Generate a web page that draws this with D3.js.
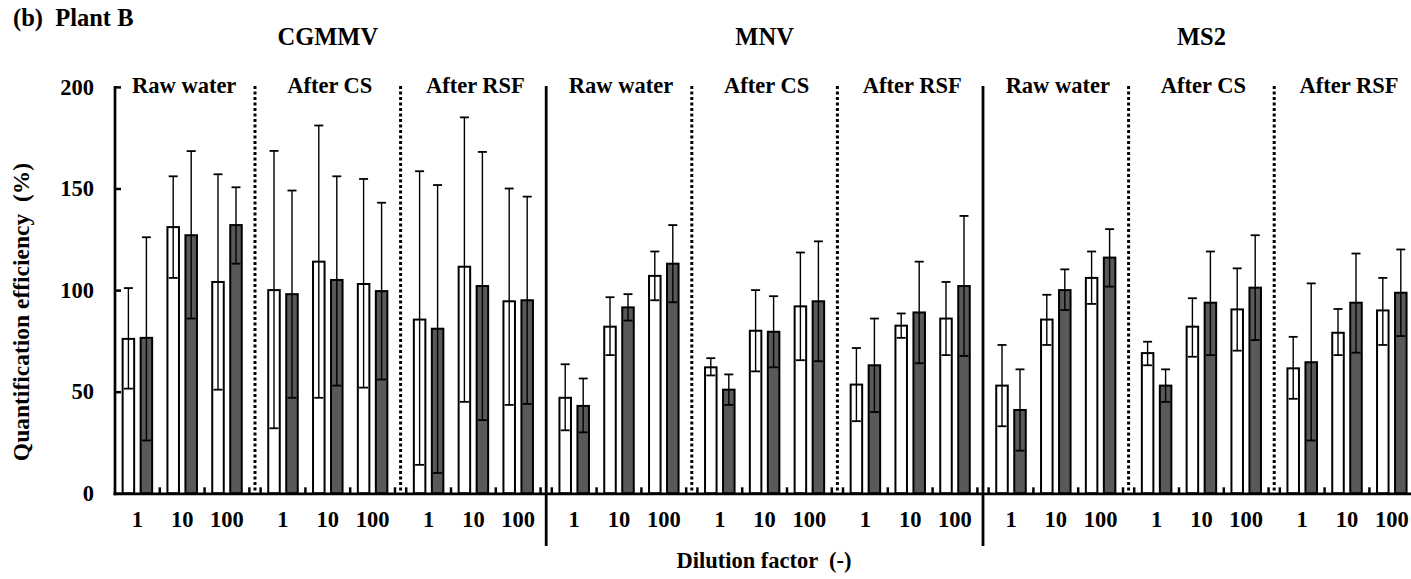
<!DOCTYPE html>
<html>
<head>
<meta charset="utf-8">
<script src="https://cdn.jsdelivr.net/npm/d3@7"></script>
<style>
  html, body { margin: 0; padding: 0; background: #fff; }
  svg { display: block; }
  text { font-family: "Liberation Serif", "Times New Roman", serif; font-weight: bold; fill: #000; }
</style>
</head>
<body>
<svg id="chart" width="1411" height="579"></svg>
<script>
// ---------------- DATA ----------------
const viruses = ["CGMMV", "MNV", "MS2"];
const treatments = ["Raw water", "After CS", "After RSF"];
const dilutions = ["1", "10", "100"];
const yTicks = [0, 50, 100, 150, 200];

// order: virus -> treatment -> dilution (27 values)
// open (white) bars
const meanA = [
  76, 131, 104,   100, 114, 103,   85.5, 111.5, 94.5,
  47, 82, 107,    62, 80, 92,      53.5, 82.5, 86,
  53, 85.5, 106,  69, 82, 90.5,    61.5, 79, 90
];
const upperA = [
  101, 156, 157,   168.5, 181, 154.7, 158.5, 185, 150,
  63.5, 96.5, 119, 66.5, 100, 118.5, 71.5, 88.5, 104,
  73, 97.7, 119,   74.6, 96, 110.7,  77, 90.7, 106
];
const lowerA = [
  51.5, 106, 51,  32, 47, 52,      14, 45, 43.5,
  31, 68, 95,     58, 60, 65.5,    35.5, 76.5, 68,
  33, 73, 93.2,   63, 67.2, 70.2,  46.5, 68, 73
];
// filled (dark) bars
const meanB = [
  76.5, 127, 132,  98, 105, 99.5,   81, 102, 95,
  43, 91.5, 113,   51, 79.5, 94.5,  63, 89, 102,
  41, 100, 116,    53, 93.8, 101.2, 64.5, 93.8, 98.7
];
const upperB = [
  126, 168.4, 150.6, 149, 156, 143,    151.7, 168, 146,
  56.5, 98, 132,     58.5, 97, 124,    86, 114, 136.5,
  61, 110.2, 130,    61, 119, 127,     103.3, 118, 120
];
const lowerB = [
  26, 86, 113,     47, 53, 56,      10, 36, 44,
  30, 85, 94,      43.5, 62, 65,    40, 64, 67.6,
  21, 90.2, 101.7, 45, 68, 75.4,    26, 69.2, 77.4
];
const seriesKeys = ["A", "B"];

// ---------------- BUILD ----------------
const groups = [];
viruses.forEach((v, vi) => treatments.forEach((t, ti) => groups.push({ v, vi, t, ti, gi: vi * 3 + ti })));

const records = [];
groups.forEach(g => dilutions.forEach((d, di) => {
  const k = g.gi * 3 + di;
  records.push({ g: g.gi, d, s: "A", mean: meanA[k], hi: upperA[k], lo: lowerA[k] });
  records.push({ g: g.gi, d, s: "B", mean: meanB[k], hi: upperB[k], lo: lowerB[k] });
}));

const svg = d3.select("#chart");
svg.append("rect").attr("width", 1411).attr("height", 579).attr("fill", "#fff");

const plotLeft = 115, plotRight = 1414.2, yBottom = 493.3, yTop = 86.9;
const y = d3.scaleLinear().domain([0, 200]).range([yBottom, yTop]);
const xg = d3.scaleBand().domain(d3.range(groups.length)).range([plotLeft, plotRight])
  .paddingInner(0.077).paddingOuter(0);
const bw = xg.bandwidth();
const xd = d3.scaleBand().domain(dilutions).range([0, bw]);
const c = xd.bandwidth();
const xs = d3.scaleBand().domain(seriesKeys).range([c / 2 - 18, c / 2 + 18])
  .paddingInner(0.36).paddingOuter(0.18);
const gapW = xg.step() - bw;

const fills = { A: "#ffffff", B: "#595959" };

// separators
groups.slice(0, -1).forEach(g => {
  const sx = xg(g.gi) + bw + gapW / 2;
  const solid = (g.ti === 2);
  svg.append("line")
    .attr("x1", sx).attr("x2", sx)
    .attr("y1", yTop - 1).attr("y2", solid ? 546 : yBottom)
    .attr("stroke", "#000")
    .attr("stroke-width", solid ? 2.8 : 3)
    .attr("stroke-dasharray", solid ? null : "3,2.5");
});

// bars
const barG = svg.append("g");
barG.selectAll("rect.bar").data(records).join("rect")
  .attr("class", "bar")
  .attr("x", r => xg(r.g) + xd(r.d) + xs(r.s))
  .attr("width", xs.bandwidth())
  .attr("y", r => y(r.mean))
  .attr("height", r => y(0) - y(r.mean))
  .attr("fill", r => fills[r.s])
  .attr("stroke", "#000")
  .attr("stroke-width", 2);

// error bars
const capW = 9;
const eb = svg.append("g");
records.forEach(r => {
  const cx = xg(r.g) + xd(r.d) + xs(r.s) + xs.bandwidth() / 2;
  eb.append("line").attr("x1", cx).attr("x2", cx).attr("y1", y(r.hi)).attr("y2", y(r.lo))
    .attr("stroke", "#000").attr("stroke-width", 1.4);
  [r.hi, r.lo].forEach(v => {
    eb.append("line").attr("x1", cx - capW / 2).attr("x2", cx + capW / 2)
      .attr("y1", y(v)).attr("y2", y(v))
      .attr("stroke", "#000").attr("stroke-width", 1.8);
  });
});

// x axis baseline
svg.append("line").attr("x1", plotLeft - 1.5).attr("x2", 1411).attr("y1", yBottom + 0.6).attr("y2", yBottom + 0.6)
  .attr("stroke", "#000").attr("stroke-width", 2.8);

// x boundary ticks (pointing up)
groups.forEach(g => {
  const x0 = xg(g.gi);
  const bounds = [0, c, 2 * c, 3 * c].filter((b, i) => !(g.gi === 0 && i === 0));
  bounds.forEach(b => {
    svg.append("line").attr("x1", x0 + b).attr("x2", x0 + b)
      .attr("y1", yBottom - 6).attr("y2", yBottom)
      .attr("stroke", "#000").attr("stroke-width", 2.5);
  });
});

// x tick labels
groups.forEach(g => {
  const ax = svg.append("g").attr("transform", `translate(${xg(g.gi)},${yBottom + 0.6})`)
    .call(d3.axisBottom(xd).tickSize(0).tickPadding(17.5));
  ax.select(".domain").remove();
  ax.selectAll("text").style("font-size", "22.5px").style("font-family", "'Liberation Serif', serif")
    .style("font-weight", "bold");
});

// y axis
const yAx = svg.append("g").attr("transform", `translate(${plotLeft},0)`)
  .call(d3.axisLeft(y).tickValues(yTicks).tickSize(-6).tickPadding(21));
yAx.select(".domain").remove();
yAx.selectAll(".tick line").attr("stroke", "#000").attr("stroke-width", 2.5);
yAx.selectAll("text").style("font-size", "22.5px").style("font-family", "'Liberation Serif', serif")
  .style("font-weight", "bold");
svg.append("line").attr("x1", plotLeft).attr("x2", plotLeft).attr("y1", yTop - 1).attr("y2", yBottom + 2)
  .attr("stroke", "#000").attr("stroke-width", 2.7);

// treatment labels
groups.forEach(g => {
  svg.append("text").attr("x", xg(g.gi) + bw / 2 + 2).attr("y", 92.5)
    .attr("text-anchor", "middle").style("font-size", "22.5px").text(g.t);
});
// virus labels
viruses.forEach((v, vi) => {
  const gi = vi * 3 + 1;
  svg.append("text").attr("x", xg(gi) + bw / 2).attr("y", 45)
    .attr("text-anchor", "middle").style("font-size", "24.5px").text(v);
});

// axis titles
svg.append("text").attr("transform", "translate(29,312) rotate(-90)")
  .attr("text-anchor", "middle").style("font-size", "23.5px").style("white-space", "pre")
  .text("Quantification efficiency  (%)");
svg.append("text").attr("x", 764).attr("y", 568).attr("text-anchor", "middle")
  .style("font-size", "22.5px").style("white-space", "pre").text("Dilution factor  (-)");

// panel title
svg.append("text").attr("x", 13).attr("y", 26).style("font-size", "24.5px").style("white-space", "pre")
  .text("(b)  Plant B");
</script>
</body>
</html>
